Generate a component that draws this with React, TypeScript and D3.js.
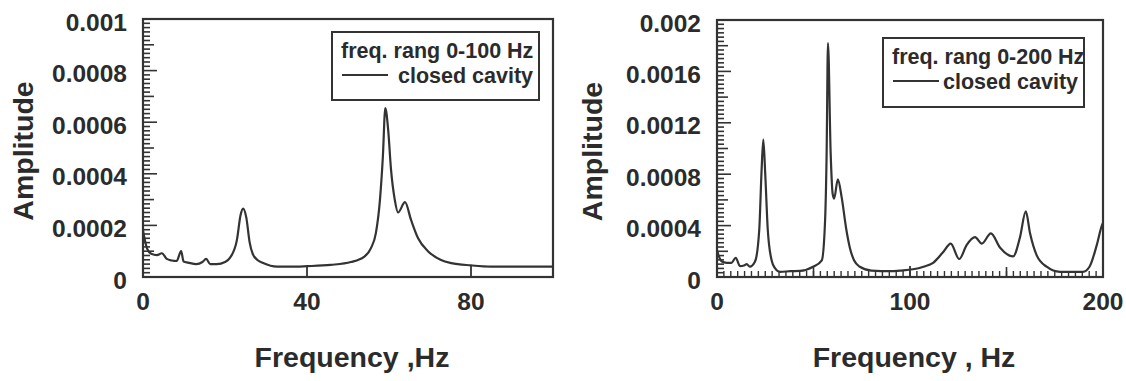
import { scaleLinear, line, curveMonotoneX, range } from 'd3'

const W = 1126
const H = 381
const INK = '#333'
const FONT = '"Liberation Sans", Arial, sans-serif'

// left panel: 0-100 Hz
const leftFreq = [0, 0.5, 1, 2, 3.4, 4.6, 5.8, 7, 8.2, 9.3, 9.9, 11, 13, 14.5, 15.4, 16.4, 18, 20, 21.2, 22.9, 23.8, 24.4, 25.2, 26, 26.8, 28, 29.3, 32.7, 36, 40, 45.8, 50.7, 53.9, 55.6, 56.8, 57.8, 58.5, 59.1, 59.8, 60.5, 61.4, 62.2, 63.9, 65.4, 67.1, 69.5, 72.7, 75.2, 80, 85, 90, 95, 100]
const leftAmp = [0.00018, 0.00014, 0.00011, 0.00009, 0.000085, 0.000092, 0.00007, 0.000064, 0.000062, 0.0001, 0.00006, 0.000056, 0.00005, 0.000058, 0.00007, 0.00005, 0.00005, 0.000058, 0.000074, 0.000143, 0.00024, 0.000265, 0.00023, 0.000135, 0.000088, 0.000065, 0.000054, 0.00004, 0.00004, 0.000042, 0.000047, 0.000058, 0.000078, 0.000112, 0.00017, 0.0003, 0.000465, 0.000655, 0.00057, 0.000415, 0.0003, 0.00025, 0.00029, 0.00022, 0.00015, 0.0001, 0.000066, 0.000054, 0.000045, 0.00004, 0.00004, 0.00004, 0.00004]
const leftXTicks = [0, 40, 80]
const leftYTicks = [0, 0.0002, 0.0004, 0.0006, 0.0008, 0.001]
const leftYLabels = ['0', '0.0002', '0.0004', '0.0006', '0.0008', '0.001']

// right panel: 0-200 Hz
const rightFreq = [0, 1, 2.5, 5, 7.5, 9.7, 11.9, 14, 15.4, 17, 19.7, 21.9, 23.1, 24, 25, 26.3, 28.3, 30, 32.6, 38, 43, 49.8, 54.3, 56, 56.8, 57.5, 58.9, 59.9, 60.7, 62.6, 64.6, 67, 68.8, 71, 74, 80, 90, 94.8, 101.6, 107, 112, 117, 121.1, 125.5, 129.4, 133.7, 137.2, 141.9, 146.6, 153.4, 157, 160, 162.2, 165.6, 170.8, 177.7, 185, 189.6, 193, 196.8, 199.4, 200]
const rightAmp = [0.00021, 0.00016, 0.00012, 0.00011, 0.00011, 0.00015, 0.000085, 0.00009, 0.0001, 0.00008, 0.00012, 0.00037, 0.00083, 0.00107, 0.0008, 0.00037, 0.00013, 0.00007, 0.00004, 0.000045, 0.000047, 0.00008, 0.00013, 0.00044, 0.00096, 0.00182, 0.00096, 0.00065, 0.00061, 0.00076, 0.00062, 0.00037, 0.00023, 0.00013, 0.00008, 0.00005, 0.000045, 0.00005, 0.00006, 0.00008, 0.00011, 0.00019, 0.00026, 0.00014, 0.00025, 0.00031, 0.00026, 0.00034, 0.00023, 0.00016, 0.00031, 0.00051, 0.00034, 0.00017, 0.00008, 0.00004, 0.00004, 0.00004, 0.00008, 0.00025, 0.0004, 0.00042]
const rightXTicks = [0, 100, 200]
const rightYTicks = [0, 0.0004, 0.0008, 0.0012, 0.0016, 0.002]
const rightYLabels = ['0', '0.0004', '0.0008', '0.0012', '0.0016', '0.002']

type PanelProps = {
  box: { l: number; t: number; r: number; b: number }
  freq: number[]
  amp: number[]
  xMax: number
  xTicks: number[]
  xMinorStep: number | null
  xMidTicks: number[]
  yTicks: number[]
  yLabels: string[]
  xTitle: string
  xTitleX: number
  yTitleX: number
  legend: { x: number; y: number; w: number; h: number; title: string }
}

function Panel(p: PanelProps) {
  const { box } = p
  const yMax = p.yTicks[p.yTicks.length - 1]
  const x = scaleLinear().domain([0, p.xMax]).range([box.l, box.r])
  const y = scaleLinear().domain([0, yMax]).range([box.b, box.t])
  const pts = p.freq.map((f, i) => [f, p.amp[i]] as [number, number])
  const path = line<[number, number]>()
    .x((d) => x(d[0]))
    .y((d) => y(d[1]))
    .curve(curveMonotoneX)(pts)

  // 12 small divisions between labelled ticks, a longer one half way
  const yStep = p.yTicks[1] / 12
  const yMinor = range(0, 12 * (p.yTicks.length - 1) + 1).map((i) => i * yStep)

  const xMinor = p.xMinorStep ? range(0, p.xMax + 1e-9, p.xMinorStep) : []
  const lg = p.legend

  return (
    <g fontFamily={FONT} fontWeight="bold" fill="#2b2b2b">
      <rect x={box.l} y={box.t} width={box.r - box.l} height={box.b - box.t} fill="none" stroke={INK} strokeWidth={2.2} />

      <path d={path ?? ''} fill="none" stroke={INK} strokeWidth={2.2} strokeLinejoin="round" />

      {/* ticks */}
      {yMinor.map((v, i) => {
        const len = i % 12 === 0 ? 14 : i % 6 === 0 ? 11 : 7
        return (
          <line key={`ym${i}`} x1={box.l} x2={box.l + len} y1={y(v)} y2={y(v)} stroke={INK} strokeWidth={1.6} />
        )
      })}
      {xMinor.map((v, i) => (
        <line key={`xm${i}`} x1={x(v)} x2={x(v)} y1={box.b} y2={box.b - 6} stroke={INK} strokeWidth={1.4} />
      ))}
      {p.xMidTicks.map((v) => (
        <line key={`xmid${v}`} x1={x(v)} x2={x(v)} y1={box.b} y2={box.b - 10} stroke={INK} strokeWidth={1.6} />
      ))}
      {p.xTicks.map((v) => (
        <line key={`xt${v}`} x1={x(v)} x2={x(v)} y1={box.b} y2={box.b - 11} stroke={INK} strokeWidth={1.8} />
      ))}

      {p.yTicks.map((v, i) => (
        <text key={`yl${v}`} x={box.l - 16} y={y(v) + 3} textAnchor="end" dominantBaseline="central" fontSize={24.5}>
          {p.yLabels[i]}
        </text>
      ))}
      {p.xTicks.map((v) => (
        <text key={`xl${v}`} x={x(v)} y={310} textAnchor="middle" fontSize={24.5}>
          {v}
        </text>
      ))}

      <text x={p.xTitleX} y={367} textAnchor="middle" fontSize={28.5}>
        {p.xTitle}
      </text>
      <text
        x={0}
        y={0}
        transform={`translate(${p.yTitleX},${(box.t + box.b) / 2 + 3}) rotate(-90)`}
        textAnchor="middle"
        fontSize={28.5}
      >
        Amplitude
      </text>

      {/* legend */}
      <rect x={lg.x} y={lg.y} width={lg.w} height={lg.h} fill="#fff" stroke={INK} strokeWidth={2} />
      <text x={lg.x + 9} y={lg.y + 26} fontSize={21.5}>
        {lg.title}
      </text>
      <line x1={lg.x + 10} x2={lg.x + 56} y1={lg.y + 43} y2={lg.y + 43} stroke={INK} strokeWidth={2} />
      <text x={lg.x + lg.w - 6} y={lg.y + 51} textAnchor="end" fontSize={21.5}>
        closed cavity
      </text>
    </g>
  )
}

export default function App() {
  return (
    <svg
      width={W}
      height={H}
      viewBox={`0 0 ${W} ${H}`}
      style={{ position: 'absolute', left: 0, top: 0, background: '#fff' }}
    >
      <rect width={W} height={H} fill="#fff" />
      <Panel
        box={{ l: 143, t: 19, r: 553, b: 277 }}
        freq={leftFreq}
        amp={leftAmp}
        xMax={100}
        xTicks={leftXTicks}
        xMinorStep={null}
        xMidTicks={[]}
        yTicks={leftYTicks}
        yLabels={leftYLabels}
        xTitle="Frequency ,Hz"
        xTitleX={352}
        yTitleX={33}
        legend={{ x: 332, y: 32, w: 207, h: 68, title: 'freq. rang 0-100 Hz' }}
      />
      <Panel
        box={{ l: 717, t: 20, r: 1103, b: 277 }}
        freq={rightFreq}
        amp={rightAmp}
        xMax={200}
        xTicks={rightXTicks}
        xMinorStep={50 / 14}
        xMidTicks={[50, 150]}
        yTicks={rightYTicks}
        yLabels={rightYLabels}
        xTitle="Frequency , Hz"
        xTitleX={914}
        yTitleX={602}
        legend={{ x: 883, y: 38, w: 201, h: 69, title: 'freq. rang 0-200 Hz' }}
      />
    </svg>
  )
}
